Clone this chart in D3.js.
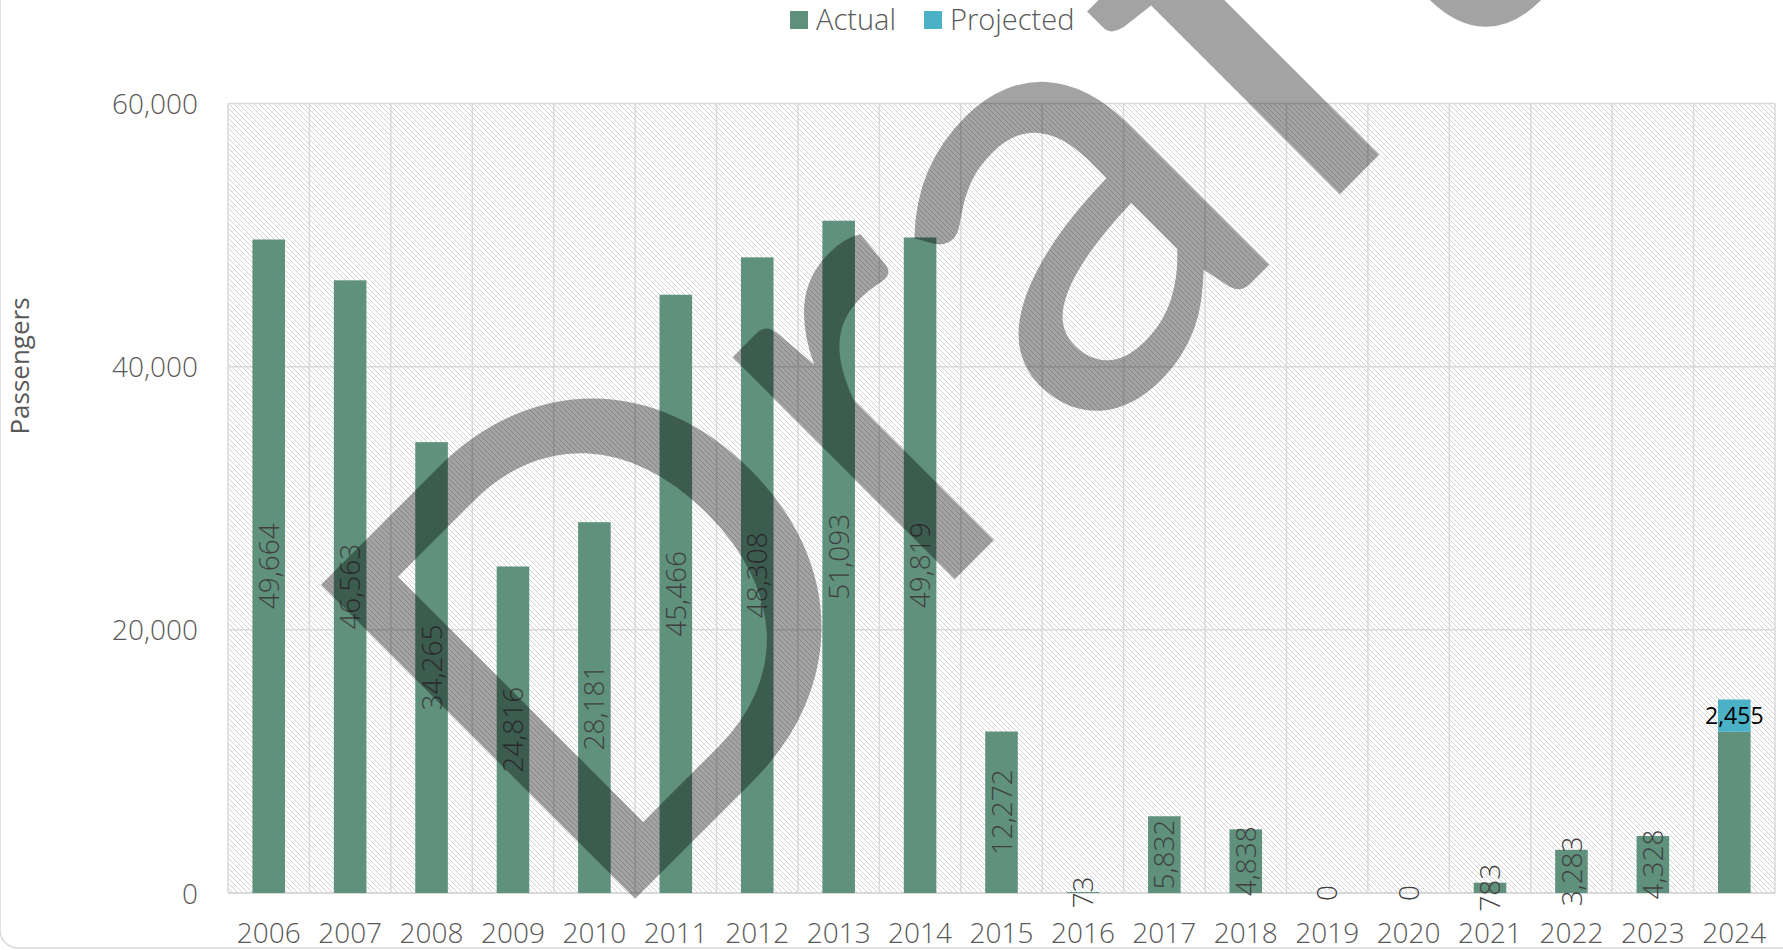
<!DOCTYPE html>
<html>
<head>
<meta charset="utf-8">
<script src="https://cdn.jsdelivr.net/npm/d3@7"></script>
<style>
  body { margin: 0; background: #ffffff; }
  svg { display: block; font-family: "Open Sans", sans-serif; }
</style>
</head>
<body>
<script>
// Data
var years = ["2006","2007","2008","2009","2010","2011","2012","2013","2014","2015",
             "2016","2017","2018","2019","2020","2021","2022","2023","2024"];
var actual = [49664, 46563, 34265, 24816, 28181, 45466, 48308, 51093, 49819, 12272,
              73, 5832, 4838, 0, 0, 783, 3283, 4328, 12250];
var actualLabels = ["49,664","46,563","34,265","24,816","28,181","45,466","48,308","51,093","49,819","12,272",
                    "73","5,832","4,838","0","0","783","3,283","4,328", null];
var projected = [null, null, null, null, null, null, null, null, null, null,
                 null, null, null, null, null, null, null, null, 2455];
var seriesNames = ["Actual", "Projected"];
var yTicks = [0, 20000, 40000, 60000];
var watermark = "Draft";

function drawChart() {
    var width = 1783, height = 950;
    var left = 228, right = 1775, top = 103.5, bottom = 893;
    var colActual = "#5f917d", colProj = "#4bb1c7";
    var gridCol = "#d9d9d9", textCol = "#595959";

    var canvas = d3.select("body").append("svg").attr("width", width).attr("height", height);

    // skrafferat bakgrundsmönster
    var defs = canvas.append("defs");
    var pat = defs.append("pattern").attr("id", "hatch")
        .attr("patternUnits", "userSpaceOnUse").attr("width", 5).attr("height", 5);
    pat.append("path").attr("d", "M0,0L5,5M-1,4L1,6M4,-1L6,1")
        .attr("stroke", "#d2d2d2").attr("stroke-width", 1);

    // ytterram (bara hörnet nere till vänster syns)
    canvas.append("rect").attr("x", 0).attr("y", -60).attr("width", 1900).attr("height", 1008)
        .attr("rx", 18).attr("fill", "none").attr("stroke", gridCol).attr("stroke-width", 1.5);

    var xScale = d3.scaleBand().domain(years).range([left, right]).paddingInner(0.6).paddingOuter(0.3);
    var yScale = d3.scaleLinear().domain([0, 60000]).range([bottom, top]);
    var step = xScale.step();

    canvas.append("rect").attr("x", left).attr("y", top)
        .attr("width", right - left).attr("height", bottom - top).attr("fill", "url(#hatch)");

    // vertikala rutnätslinjer mellan kategorierna
    var vGrid = d3.range(years.length + 1);
    canvas.append("g").selectAll("line").data(vGrid).join("line")
        .attr("x1", function(d) { return left + d * step; })
        .attr("x2", function(d) { return left + d * step; })
        .attr("y1", top).attr("y2", bottom)
        .attr("stroke", gridCol).attr("stroke-width", 1.5);

    // horisontella rutnätslinjer
    canvas.append("g").selectAll("line").data(yTicks).join("line")
        .attr("x1", left).attr("x2", right)
        .attr("y1", function(d) { return yScale(d); }).attr("y2", function(d) { return yScale(d); })
        .attr("stroke", gridCol).attr("stroke-width", function(d) { return d === 0 ? 2 : 1.5; });

    // y-axel
    var yAxis = d3.axisLeft(yScale).tickValues(yTicks).tickSize(0).tickPadding(0)
        .tickFormat(d3.format(","));
    var yg = canvas.append("g").attr("transform", "translate(198,0)").call(yAxis);
    yg.select(".domain").remove();
    yg.selectAll("text").attr("font-family", "Open Sans").attr("font-size", 28)
        .attr("font-weight", 300).attr("fill", textCol).attr("dy", "0.36em");

    // x-axel
    var xAxis = d3.axisBottom(xScale).tickSize(0).tickPadding(0);
    var xg = canvas.append("g").attr("transform", "translate(0,943)").call(xAxis);
    xg.select(".domain").remove();
    xg.selectAll("text").attr("font-family", "Open Sans").attr("font-size", 28)
        .attr("font-weight", 300).attr("fill", textCol).attr("dy", 0);

    // staplar: faktiska
    canvas.append("g").selectAll("rect").data(actual).join("rect")
        .attr("x", function(d, i) { return xScale(years[i]); })
        .attr("y", function(d) { return yScale(d); })
        .attr("width", xScale.bandwidth())
        .attr("height", function(d) { return yScale(0) - yScale(d); })
        .attr("fill", colActual);

    // staplar: prognos, staplade ovanpå
    var projIdx = d3.range(years.length).filter(function(i) { return projected[i] != null; });
    canvas.append("g").selectAll("rect").data(projIdx).join("rect")
        .attr("x", function(i) { return xScale(years[i]); })
        .attr("y", function(i) { return yScale(actual[i] + projected[i]); })
        .attr("width", xScale.bandwidth())
        .attr("height", function(i) { return yScale(actual[i]) - yScale(actual[i] + projected[i]); })
        .attr("fill", colProj);

    // dataetiketter (roterade)
    var labIdx = d3.range(years.length).filter(function(i) { return actualLabels[i] != null; });
    canvas.append("g").selectAll("text").data(labIdx).join("text")
        .attr("transform", function(i) {
            var cx = xScale(years[i]) + xScale.bandwidth() / 2;
            var cy = (yScale(0) + yScale(actual[i])) / 2;
            return "translate(" + cx + "," + cy + ") rotate(-90)";
        })
        .attr("text-anchor", "middle").attr("dy", "0.36em")
        .attr("font-size", 28).attr("font-weight", 300).attr("fill", "#404040")
        .text(function(i) { return actualLabels[i]; });

    canvas.append("g").selectAll("text").data(projIdx).join("text")
        .attr("x", function(i) { return xScale(years[i]) + xScale.bandwidth() / 2; })
        .attr("y", function(i) { return (yScale(actual[i]) + yScale(actual[i] + projected[i])) / 2; })
        .attr("text-anchor", "middle").attr("dy", "0.36em")
        .attr("font-size", 23).attr("fill", "#000000")
        .text(function(i) { return d3.format(",")(projected[i]); });

    // y-axelns titel
    canvas.append("text").attr("transform", "translate(29,366) rotate(-90)")
        .attr("text-anchor", "middle").attr("font-size", 26).attr("fill", textCol)
        .text("Passengers");

    // legend
    var legX = [790, 924];
    var legCol = [colActual, colProj];
    var leg = canvas.append("g").selectAll("g").data(seriesNames).join("g")
        .attr("transform", function(d, i) { return "translate(" + legX[i] + ",0)"; });
    leg.append("rect").attr("x", 0).attr("y", 11).attr("width", 18).attr("height", 18)
        .attr("fill", function(d, i) { return legCol[i]; });
    leg.append("text").attr("x", 26).attr("y", 30)
        .attr("font-size", 29).attr("font-weight", 300).attr("fill", textCol)
        .text(function(d) { return d; });

    // vattenstämpel
    canvas.append("text").attr("transform", "translate(595,939) rotate(-45)")
        .attr("font-family", "Lato").attr("font-size", 620)
        .attr("fill", "#000000").attr("fill-opacity", 0.36)
        .text(watermark);
}
drawChart();
</script>
</body>
</html>
